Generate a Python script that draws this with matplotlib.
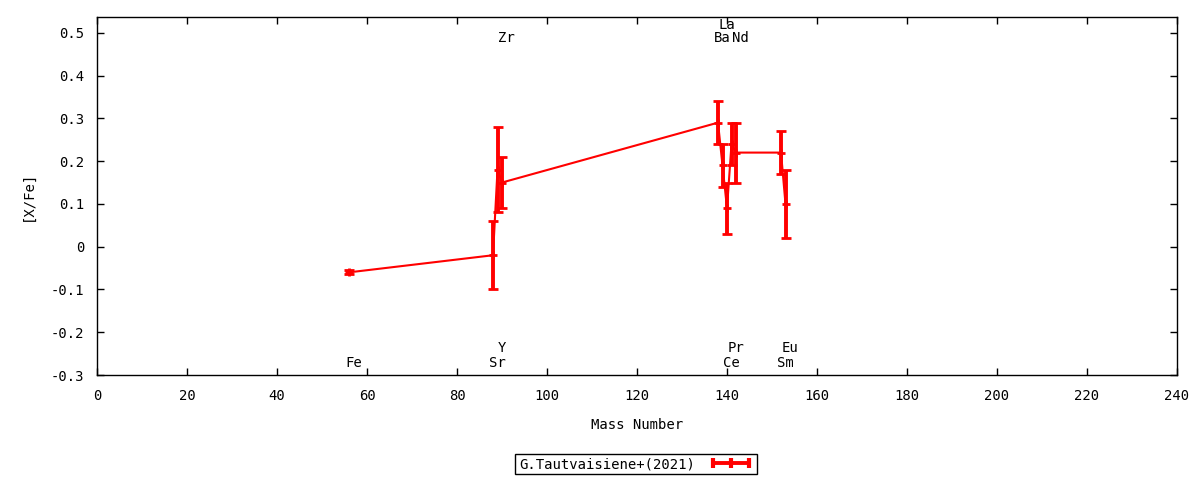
import matplotlib
matplotlib.use("Agg")
import matplotlib.pyplot as plt
from matplotlib.lines import Line2D
from matplotlib.ticker import FuncFormatter, MultipleLocator

# ---- data ----
elements = ["Fe", "Sr", "Y", "Zr", "Ba", "La", "Ce", "Pr", "Nd", "Sm", "Eu"]
mass_number = [56, 88, 89, 90, 138, 139, 140, 141, 142, 152, 153]
x_fe = [-0.06, -0.02, 0.18, 0.15, 0.29, 0.19, 0.09, 0.24, 0.22, 0.22, 0.10]
x_fe_err = [0.005, 0.08, 0.10, 0.06, 0.05, 0.05, 0.06, 0.05, 0.07, 0.05, 0.08]
# label row: 0 = bottom, 1 = bottom upper, 2 = top, 3 = top upper
label_row = [0, 0, 1, 2, 2, 3, 0, 1, 2, 0, 1]
series_name = "G.Tautvaisiene+(2021)"

row_y = {0: -0.273, 1: -0.238, 2: 0.489, 3: 0.518}

plt.rcParams['font.family'] = ['DejaVu Sans Mono']
plt.rcParams['font.size'] = 10

fig = plt.figure(figsize=(12, 4.8), dpi=100)
ax = fig.add_axes([97/1200, 1 - 375/480, (1177 - 97)/1200, (375 - 17)/480])

red = '#ff0000'
ax.errorbar(mass_number, x_fe, yerr=x_fe_err, fmt='-', color=red,
            lw=1.5, elinewidth=2.8, capsize=3.6, capthick=2.8,
            marker='+', markersize=6, mew=2.0)

for el, m, r in zip(elements, mass_number, label_row):
    ax.text(m + 1.0, row_y[r], el, ha='center', va='center', fontsize=10)

ax.set_xlim(0, 240)
ax.set_ylim(-0.3, 0.537)
ax.xaxis.set_major_locator(MultipleLocator(20))
ax.yaxis.set_major_locator(MultipleLocator(0.1))

def yfmt(v, pos):
    v = round(v, 1)
    if abs(v) < 1e-9:
        return "0"
    return f"{v:g}"

ax.yaxis.set_major_formatter(FuncFormatter(yfmt))
ax.tick_params(direction='in', top=True, right=True, length=5, width=1,
               labelsize=10)
ax.tick_params(axis='x', pad=10)
ax.tick_params(axis='y', pad=9)
for s in ax.spines.values():
    s.set_linewidth(1)

ax.set_xlabel("Mass Number", fontsize=10, labelpad=11)
ax.set_ylabel("[X/Fe]", fontsize=10, labelpad=12)

handle = Line2D([], [], color=red, lw=2.8, marker='|', markersize=7, mew=3)
leg = ax.legend([handle], [series_name], loc='center',
                bbox_to_anchor=(636/1200, 1 - 464/480),
                bbox_transform=fig.transFigure, markerfirst=False,
                numpoints=3, frameon=True, fancybox=False, edgecolor='black',
                framealpha=1, borderpad=0.25, handlelength=3.2,
                handletextpad=1.0, borderaxespad=0, fontsize=10)
leg.get_frame().set_linewidth(1)

fig.savefig("out.png", dpi=100)
